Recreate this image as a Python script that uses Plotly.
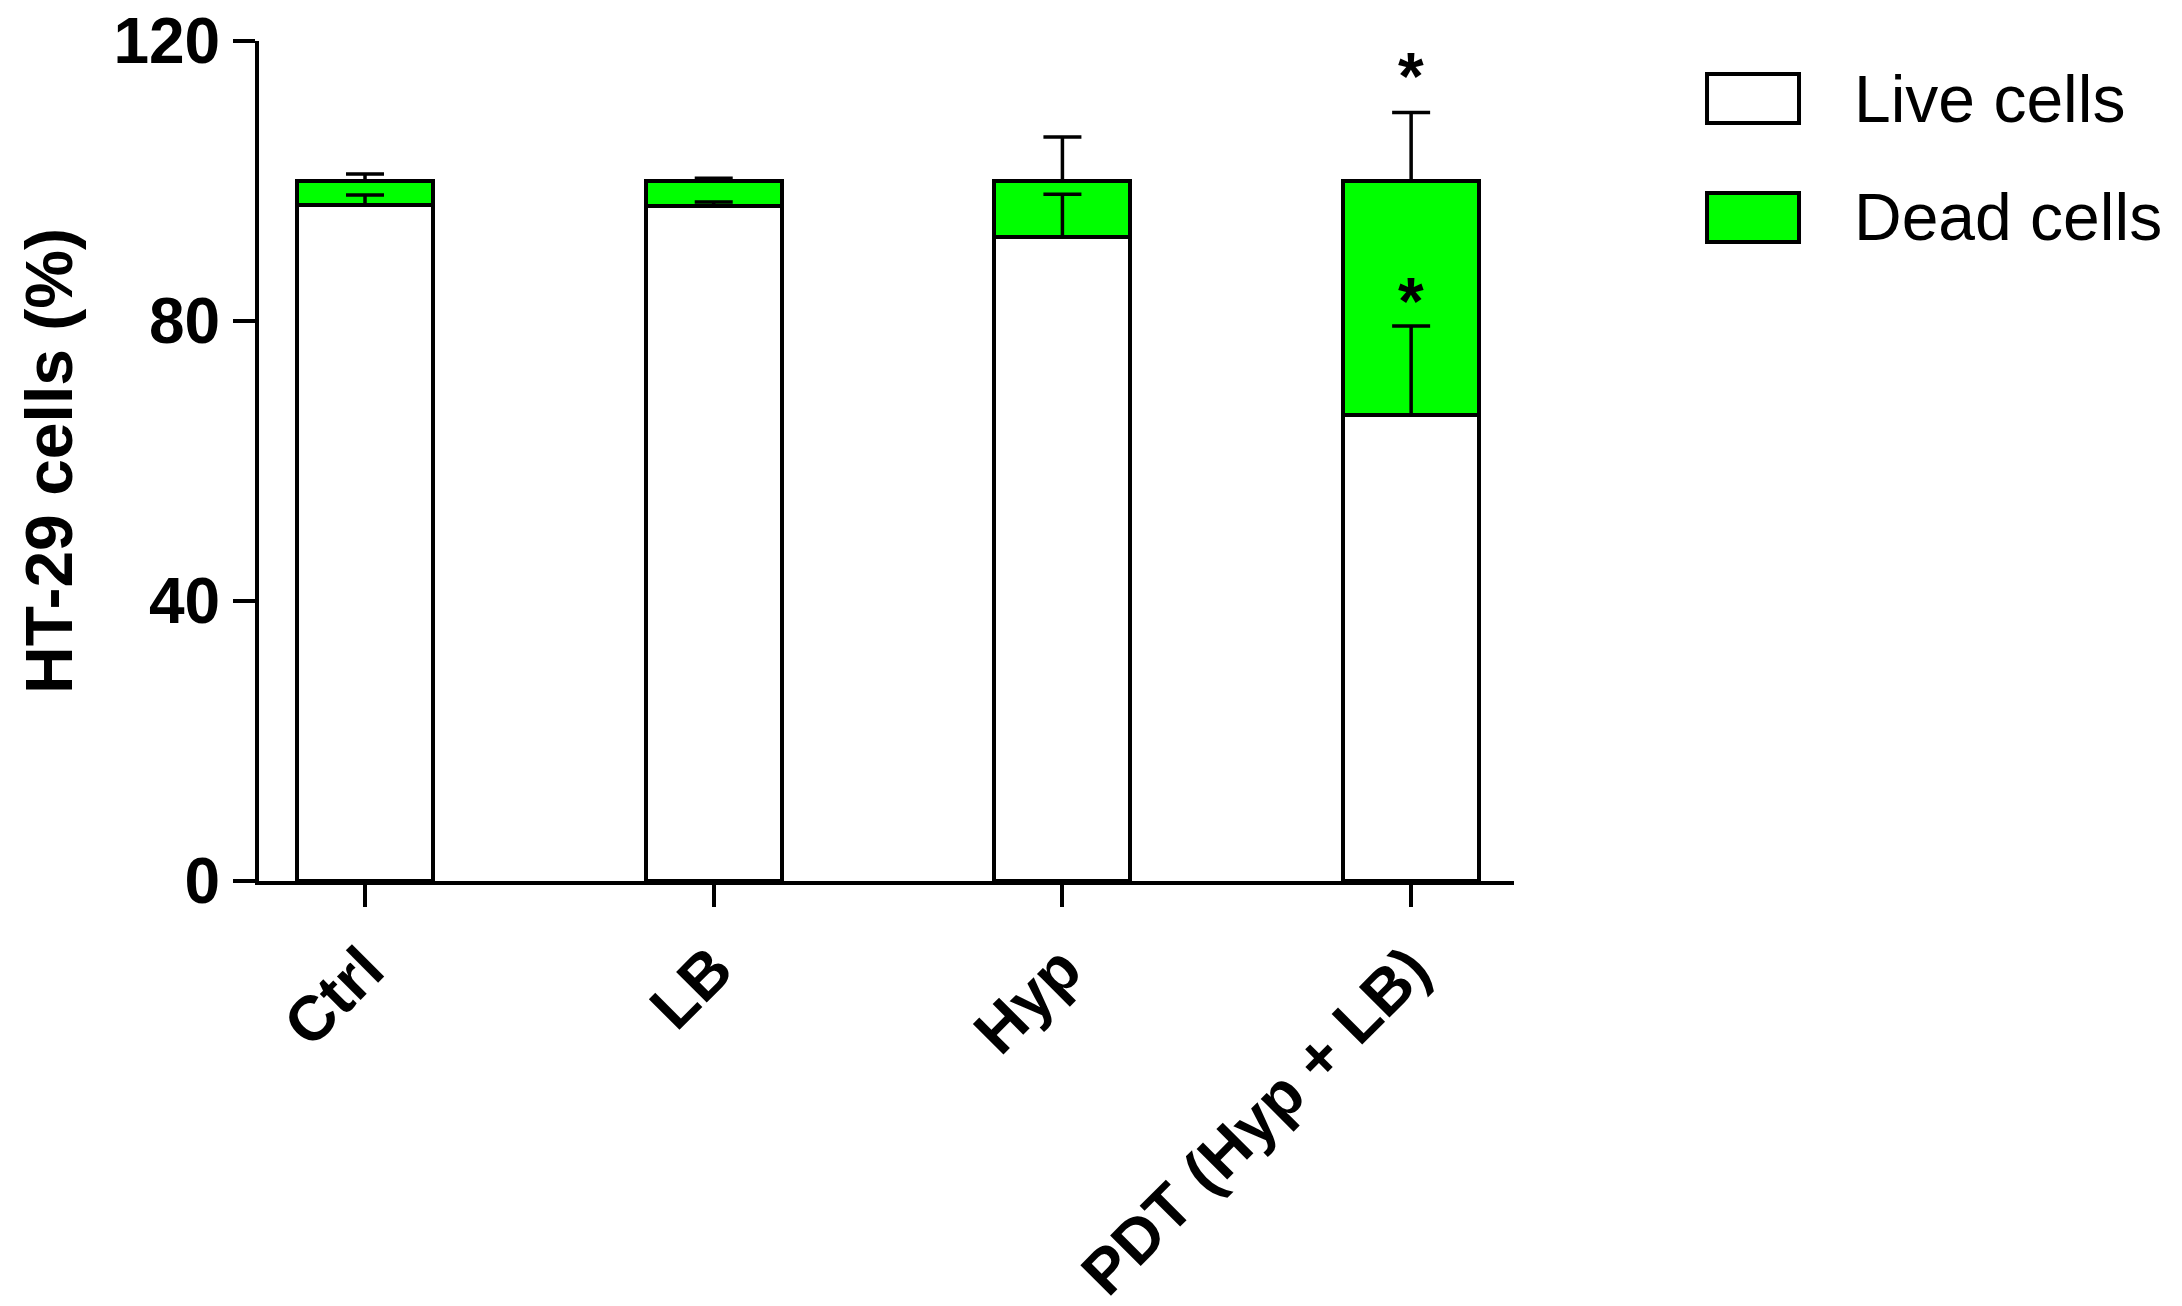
import plotly.graph_objects as go

groups = ["Ctrl", "LB", "Hyp", "PDT (Hyp + LB)"]
live = [96.6, 96.4, 92.0, 66.6]
live_err = [1.4, 0.6, 6.1, 12.7]
dead = [3.4, 3.6, 8.0, 33.4]
dead_err = [1.0, 0.4, 6.3, 9.8]
live_sig = ["", "", "", "*"]
dead_sig = ["", "", "", "*"]
series_names = ["Live cells", "Dead cells"]
series_colors = ["#ffffff", "#00ff00"]
y_ticks = [0, 40, 80, 120]

FONT = "Liberation Sans, Arial, sans-serif"
LW = 4

fig = go.Figure()

fig.add_trace(go.Bar(
    x=groups, y=live, name=series_names[0],
    marker=dict(color=series_colors[0], line=dict(color="black", width=LW)),
    width=0.39, showlegend=False
))
fig.add_trace(go.Bar(
    x=groups, y=dead, name=series_names[1],
    marker=dict(color=series_colors[1], line=dict(color="black", width=LW)),
    width=0.39, showlegend=False
))

# error bars drawn on top of both bar segments (only the upper half, as in the figure)
live_top = live
dead_top = [a + b for a, b in zip(live, dead)]
for tops, errs in [(live_top, live_err), (dead_top, dead_err)]:
    fig.add_trace(go.Scatter(
        x=groups, y=tops, mode="markers",
        marker=dict(size=0.1, color="rgba(0,0,0,0)"),
        error_y=dict(type="data", symmetric=False, array=errs,
                     arrayminus=[0] * len(errs), color="black",
                     thickness=3.5, width=19),
        showlegend=False, hoverinfo="skip"
    ))

annotations = []
for tops, errs, sig, shift in [(live_top, live_err, live_sig, -14), (dead_top, dead_err, dead_sig, -3)]:
    for g, t, e, s in zip(groups, tops, errs, sig):
        if s:
            annotations.append(dict(
                x=g, y=t + e, text=s, showarrow=False,
                yanchor="bottom", yshift=shift,
                font=dict(family=FONT, size=66, color="black", weight="bold")
            ))

# legend drawn by hand so the swatches can be large rectangles
shapes = []
legend_y = [0.9315, 0.7899]
for name, col, yc in zip(series_names, series_colors, legend_y):
    shapes.append(dict(
        type="rect", xref="paper", yref="paper",
        x0=1.1538, x1=1.2271, y0=yc - 0.0292, y1=yc + 0.0292,
        fillcolor=col, line=dict(color="black", width=LW)
    ))
    annotations.append(dict(
        xref="paper", yref="paper", x=1.2693, y=yc, text=name,
        showarrow=False, xanchor="left", yanchor="middle",
        font=dict(family=FONT, size=66, color="black")
    ))

fig.update_layout(
    width=2182, height=1306,
    barmode="stack",
    plot_bgcolor="white", paper_bgcolor="white",
    margin=dict(l=251, r=676, t=33, b=433),
    font=dict(family=FONT, color="black"),
    xaxis=dict(
        range=[-0.304, 3.295], showline=True, linecolor="black", linewidth=LW,
        ticks="outside", ticklen=22, tickwidth=3.5, tickcolor="black",
        tickangle=-45, showgrid=False, zeroline=False, automargin=False,
        tickfont=dict(family=FONT, size=63, color="black", weight="bold")
    ),
    yaxis=dict(
        range=[0, 120], tickvals=y_ticks, showline=True, linecolor="black",
        linewidth=LW, ticks="outside", ticklen=22, tickwidth=3.5, tickcolor="black",
        showgrid=False, zeroline=False, automargin=False,
        ticklabeloverflow="allow",
        tickfont=dict(family=FONT, size=64, color="black", weight="bold"),
        title=dict(text="HT-29 cells (%)", standoff=20,
                   font=dict(family=FONT, size=66, color="black", weight="bold"))
    ),
    shapes=shapes,
    annotations=annotations,
)

fig.write_html("out.html")
